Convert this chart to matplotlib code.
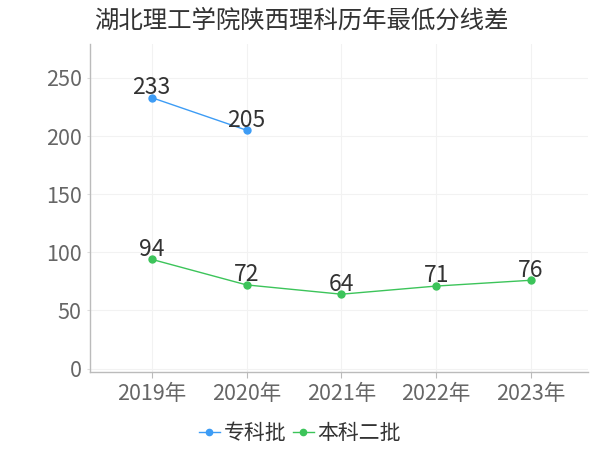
import numpy as np
import matplotlib
matplotlib.use("Agg")
from matplotlib import pyplot as plt

plt.rcParams['font.family'] = ['Noto Sans CJK SC', 'DejaVu Sans']

years = ["2019年", "2020年", "2021年", "2022年", "2023年"]
zhuanke = [233, 205]          # 专科批, only 2019-2020
benke2 = [94, 72, 64, 71, 76]  # 本科二批

blue = "#3d9cf5"
green = "#3cc45a"

fig = plt.figure(figsize=(6, 4.5), dpi=100)
ax = fig.add_axes([0.15, 0.173, 0.83, 0.729])

x = np.arange(len(years))
ax.plot(x[:len(zhuanke)], zhuanke, color=blue, lw=1, marker="o", ms=5, label="专科批")
ax.plot(x, benke2, color=green, lw=1, marker="o", ms=5, label="本科二批")

# data labels just above the points
for xi, v in zip(x, zhuanke):
    ax.annotate(str(v), (xi, v), xytext=(0, -1), textcoords="offset points",
                ha="center", va="bottom", fontsize=16.5, color="#333333")
for xi, v in zip(x, benke2):
    ax.annotate(str(v), (xi, v), xytext=(0, -1), textcoords="offset points",
                ha="center", va="bottom", fontsize=16.5, color="#333333")

ax.set_xlim(-0.65, 4.6)
ax.set_ylim(-3, 279)
ax.set_xticks(x)
ax.set_xticklabels(years)
ax.set_yticks([0, 50, 100, 150, 200, 250])
ax.tick_params(axis="both", labelsize=15.5, labelcolor="#666666")
ax.tick_params(axis="x", length=4, color="#bbbbbb", pad=4)
ax.tick_params(axis="y", length=2, color="#dddddd", pad=4)

ax.grid(True, color="#f2f2f2", lw=0.8)
ax.set_axisbelow(True)
for s in ["top", "right"]:
    ax.spines[s].set_visible(False)
for s in ["left", "bottom"]:
    ax.spines[s].set_color("#bbbbbb")
    ax.spines[s].set_linewidth(1)

fig.suptitle("湖北理工学院陕西理科历年最低分线差", x=0.502, y=0.983, fontsize=17.6, color="#333333")

fig.legend(loc="lower center", bbox_to_anchor=(0.5, -0.028), ncol=2, frameon=False,
           fontsize=15, handlelength=1.0, handletextpad=0.2, columnspacing=0.3,
           markerscale=0.9, labelcolor="#333333")

fig.savefig("out.png", dpi=100)
